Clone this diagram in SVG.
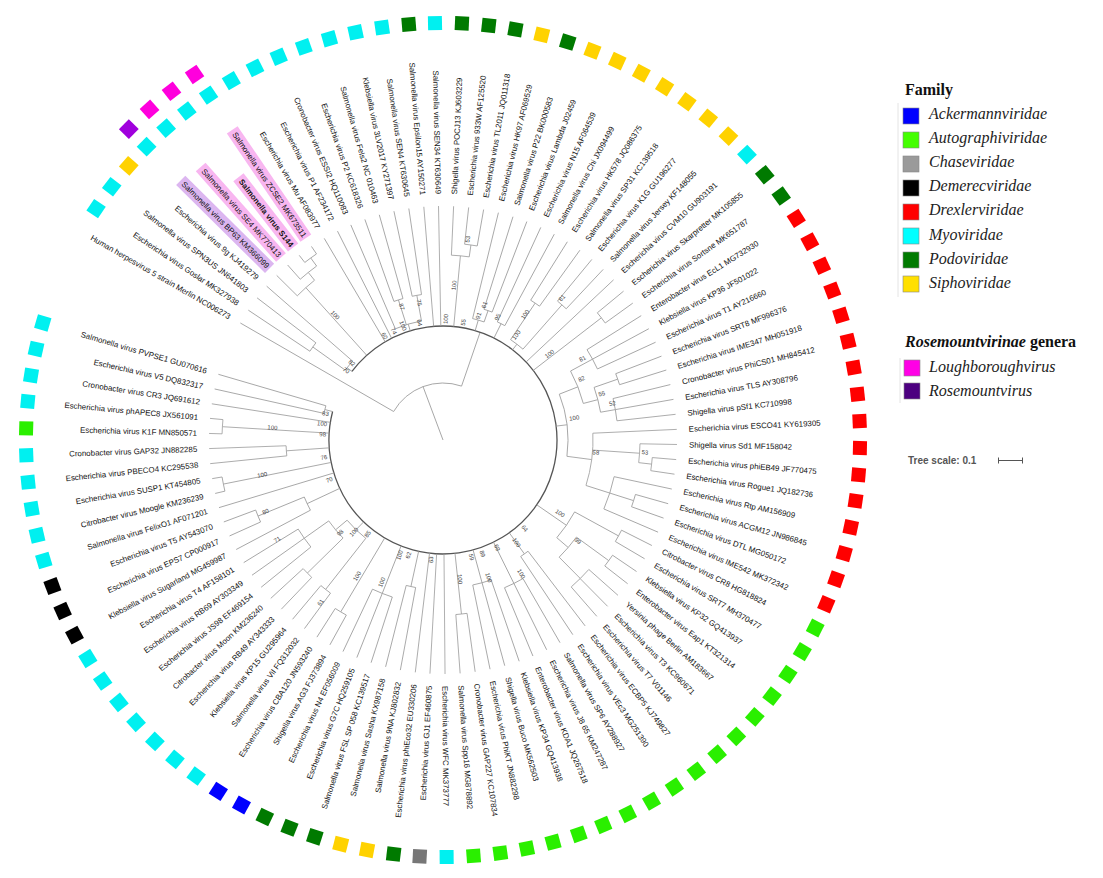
<svg xmlns="http://www.w3.org/2000/svg" width="1103" height="878" viewBox="0 0 1103 878">
<style>
.t{font-family:"Liberation Sans",Arial,sans-serif;font-size:7.9px;fill:#111}
.l{text-anchor:end}
.sb{font-weight:bold}
.b line,.b circle{stroke:#9c9c9c;stroke-width:0.8;fill:none}
.b circle.m{stroke:#555;stroke-width:1.3}
.bs{font-family:"Liberation Sans",Arial,sans-serif;font-size:6px;fill:#444}
.bsl{font-family:"Liberation Sans",Arial,sans-serif;font-size:6px;fill:#444;text-anchor:end}
.cy{fill:#00f0f0}.gd{fill:#007a00}.ye{fill:#ffd200}.re{fill:#ff0000}.li{fill:#2aef00}.gy{fill:#777}.bl{fill:#0000ff}.bk{fill:#000}
.pu{fill:#a000dd}.mg{fill:#ff00dd}
.hp{fill:#f8b6f0}.hv{fill:#dcb6f0}
.lg{font-family:"Liberation Serif","Times New Roman",serif;font-size:16px;font-style:italic;fill:#222}
.lh{font-family:"Liberation Serif","Times New Roman",serif;font-size:16px;font-weight:bold;fill:#111}
.ls{stroke:#888;stroke-width:0.6}
</style>
<defs>
<rect id="sq" x="410" y="-7" width="14" height="14"/>
<rect id="sq2" x="435" y="-7" width="14" height="14"/>
</defs>
<rect width="1103" height="878" fill="#fff"/>
<g transform="translate(443,440)">
<g id="connectors" class="b">
<line x2="57" transform="rotate(249.5)"/>
<circle r="57" pathLength="360" stroke-dasharray="79 400" transform="rotate(210)"/>
<line x1="57" x2="234" transform="rotate(210)"/>
<line x1="57" x2="114" transform="rotate(289)"/>
<circle class="m" r="114" pathLength="360" stroke-dasharray="337.45 400" transform="rotate(217)"/>
<line x1="114" x2="120" transform="rotate(217)"/>
<circle r="120" pathLength="360" stroke-dasharray="5.55 400" transform="rotate(215.55)"/>
<line x1="120" x2="160" transform="rotate(215.55)"/>
<circle r="160" pathLength="360" stroke-dasharray="3.7 400" transform="rotate(213.7)"/>
<line x1="160" x2="234" transform="rotate(213.7)"/>
<line x1="160" x2="234" transform="rotate(217.4)"/>
<line x1="120" x2="234" transform="rotate(221.1)"/>
<line x1="114" x2="205" transform="rotate(228)"/>
<circle r="205" pathLength="360" stroke-dasharray="6.5 400" transform="rotate(224.7)"/>
<line x1="205" x2="234" transform="rotate(224.7)"/>
<line x1="205" x2="215" transform="rotate(231.2)"/>
<circle r="215" pathLength="360" stroke-dasharray="5.6 400" transform="rotate(228.4)"/>
<line x1="215" x2="234" transform="rotate(228.4)"/>
<line x1="215" x2="225" transform="rotate(234)"/>
<circle r="225" pathLength="360" stroke-dasharray="3.7 400" transform="rotate(232.1)"/>
<line x1="225" x2="234" transform="rotate(232.1)"/>
<line x1="225" x2="234" transform="rotate(235.8)"/>
<line x1="114" x2="234" transform="rotate(239.5)"/>
<line x1="114" x2="234" transform="rotate(243.2)"/>
<line x1="114" x2="121" transform="rotate(253.3)"/>
<circle r="121" pathLength="360" stroke-dasharray="12.95 400" transform="rotate(246.8)"/>
<line x1="121" x2="234" transform="rotate(246.8)"/>
<line x1="121" x2="147" transform="rotate(252.35)"/>
<circle r="147" pathLength="360" stroke-dasharray="3.7 400" transform="rotate(250.5)"/>
<line x1="147" x2="234" transform="rotate(250.5)"/>
<line x1="147" x2="234" transform="rotate(254.2)"/>
<line x1="121" x2="147" transform="rotate(259.75)"/>
<circle r="147" pathLength="360" stroke-dasharray="3.7 400" transform="rotate(257.9)"/>
<line x1="147" x2="234" transform="rotate(257.9)"/>
<line x1="147" x2="234" transform="rotate(261.6)"/>
<line x1="114" x2="234" transform="rotate(265.3)"/>
<line x1="114" x2="234" transform="rotate(268.9)"/>
<line x1="114" x2="185" transform="rotate(275.4)"/>
<circle r="185" pathLength="360" stroke-dasharray="5.55 400" transform="rotate(272.6)"/>
<line x1="185" x2="234" transform="rotate(272.6)"/>
<line x1="185" x2="197" transform="rotate(278.15)"/>
<circle r="197" pathLength="360" stroke-dasharray="3.7 400" transform="rotate(276.3)"/>
<line x1="197" x2="234" transform="rotate(276.3)"/>
<line x1="197" x2="234" transform="rotate(280)"/>
<line x1="114" x2="125" transform="rotate(286.4)"/>
<circle r="125" pathLength="360" stroke-dasharray="5.5 400" transform="rotate(283.7)"/>
<line x1="125" x2="234" transform="rotate(283.7)"/>
<line x1="125" x2="137" transform="rotate(289.2)"/>
<circle r="137" pathLength="360" stroke-dasharray="3.6 400" transform="rotate(287.4)"/>
<line x1="137" x2="234" transform="rotate(287.4)"/>
<line x1="137" x2="234" transform="rotate(291)"/>
<line x1="114" x2="130" transform="rotate(296.55)"/>
<circle r="130" pathLength="360" stroke-dasharray="3.7 400" transform="rotate(294.7)"/>
<line x1="130" x2="234" transform="rotate(294.7)"/>
<line x1="130" x2="234" transform="rotate(298.4)"/>
<line x1="114" x2="121" transform="rotate(307.65)"/>
<circle r="121" pathLength="360" stroke-dasharray="7.4 400" transform="rotate(303.95)"/>
<line x1="121" x2="165" transform="rotate(303.95)"/>
<circle r="165" pathLength="360" stroke-dasharray="3.7 400" transform="rotate(302.1)"/>
<line x1="165" x2="234" transform="rotate(302.1)"/>
<line x1="165" x2="234" transform="rotate(305.8)"/>
<line x1="121" x2="180" transform="rotate(311.35)"/>
<circle r="180" pathLength="360" stroke-dasharray="3.7 400" transform="rotate(309.5)"/>
<line x1="180" x2="234" transform="rotate(309.5)"/>
<line x1="180" x2="234" transform="rotate(313.2)"/>
<line x1="114" x2="234" transform="rotate(316.8)"/>
<line x1="114" x2="200" transform="rotate(322.35)"/>
<circle r="200" pathLength="360" stroke-dasharray="3.7 400" transform="rotate(320.5)"/>
<line x1="200" x2="234" transform="rotate(320.5)"/>
<line x1="200" x2="234" transform="rotate(324.2)"/>
<line x1="114" x2="125" transform="rotate(353)"/>
<circle r="125" pathLength="360" stroke-dasharray="29 400" transform="rotate(338.5)"/>
<line x1="125" x2="145" transform="rotate(338.5)"/>
<circle r="145" pathLength="360" stroke-dasharray="13.8 400" transform="rotate(331.6)"/>
<line x1="145" x2="170" transform="rotate(331.6)"/>
<circle r="170" pathLength="360" stroke-dasharray="7.4 400" transform="rotate(327.9)"/>
<line x1="170" x2="234" transform="rotate(327.9)"/>
<line x1="170" x2="234" transform="rotate(331.6)"/>
<line x1="170" x2="234" transform="rotate(335.3)"/>
<line x1="145" x2="160" transform="rotate(345.4)"/>
<circle r="160" pathLength="360" stroke-dasharray="9.2 400" transform="rotate(340.8)"/>
<line x1="160" x2="185" transform="rotate(340.8)"/>
<circle r="185" pathLength="360" stroke-dasharray="3.6 400" transform="rotate(339)"/>
<line x1="185" x2="234" transform="rotate(339)"/>
<line x1="185" x2="234" transform="rotate(342.6)"/>
<line x1="160" x2="175" transform="rotate(350)"/>
<circle r="175" pathLength="360" stroke-dasharray="7.4 400" transform="rotate(346.3)"/>
<line x1="175" x2="234" transform="rotate(346.3)"/>
<line x1="175" x2="234" transform="rotate(350)"/>
<line x1="175" x2="234" transform="rotate(353.7)"/>
<line x1="125" x2="150" transform="rotate(367.5)"/>
<circle r="150" pathLength="360" stroke-dasharray="20.2 400" transform="rotate(357.4)"/>
<line x1="150" x2="234" transform="rotate(357.4)"/>
<line x1="150" x2="197" transform="rotate(363.85)"/>
<circle r="197" pathLength="360" stroke-dasharray="5.5 400" transform="rotate(361.1)"/>
<line x1="197" x2="234" transform="rotate(361.1)"/>
<line x1="197" x2="210" transform="rotate(366.6)"/>
<circle r="210" pathLength="360" stroke-dasharray="3.6 400" transform="rotate(364.8)"/>
<line x1="210" x2="234" transform="rotate(364.8)"/>
<line x1="210" x2="234" transform="rotate(368.4)"/>
<line x1="150" x2="175" transform="rotate(377.65)"/>
<circle r="175" pathLength="360" stroke-dasharray="11.1 400" transform="rotate(372.1)"/>
<line x1="175" x2="234" transform="rotate(372.1)"/>
<line x1="175" x2="200" transform="rotate(377.65)"/>
<circle r="200" pathLength="360" stroke-dasharray="3.7 400" transform="rotate(375.8)"/>
<line x1="200" x2="234" transform="rotate(375.8)"/>
<line x1="200" x2="234" transform="rotate(379.5)"/>
<line x1="175" x2="234" transform="rotate(383.2)"/>
<line x1="114" x2="150" transform="rotate(394.65)"/>
<circle r="150" pathLength="360" stroke-dasharray="12 400" transform="rotate(388.65)"/>
<line x1="150" x2="200" transform="rotate(388.65)"/>
<circle r="200" pathLength="360" stroke-dasharray="3.7 400" transform="rotate(386.8)"/>
<line x1="200" x2="234" transform="rotate(386.8)"/>
<line x1="200" x2="234" transform="rotate(390.5)"/>
<line x1="150" x2="165" transform="rotate(400.65)"/>
<circle r="165" pathLength="360" stroke-dasharray="9.2 400" transform="rotate(396.05)"/>
<line x1="165" x2="205" transform="rotate(396.05)"/>
<circle r="205" pathLength="360" stroke-dasharray="3.7 400" transform="rotate(394.2)"/>
<line x1="205" x2="234" transform="rotate(394.2)"/>
<line x1="205" x2="234" transform="rotate(397.9)"/>
<line x1="165" x2="195" transform="rotate(405.25)"/>
<circle r="195" pathLength="360" stroke-dasharray="7.3 400" transform="rotate(401.6)"/>
<line x1="195" x2="234" transform="rotate(401.6)"/>
<line x1="195" x2="234" transform="rotate(405.3)"/>
<line x1="195" x2="234" transform="rotate(408.9)"/>
<line x1="114" x2="140" transform="rotate(414.45)"/>
<circle r="140" pathLength="360" stroke-dasharray="3.7 400" transform="rotate(412.6)"/>
<line x1="140" x2="234" transform="rotate(412.6)"/>
<line x1="140" x2="234" transform="rotate(416.3)"/>
<line x1="114" x2="160" transform="rotate(423.7)"/>
<circle r="160" pathLength="360" stroke-dasharray="7.4 400" transform="rotate(420)"/>
<line x1="160" x2="234" transform="rotate(420)"/>
<line x1="160" x2="234" transform="rotate(423.7)"/>
<line x1="160" x2="234" transform="rotate(427.4)"/>
<line x1="114" x2="148" transform="rotate(434.7)"/>
<circle r="148" pathLength="360" stroke-dasharray="7.4 400" transform="rotate(431)"/>
<line x1="148" x2="234" transform="rotate(431)"/>
<line x1="148" x2="234" transform="rotate(434.7)"/>
<line x1="148" x2="234" transform="rotate(438.4)"/>
<line x1="114" x2="175" transform="rotate(443.95)"/>
<circle r="175" pathLength="360" stroke-dasharray="3.7 400" transform="rotate(442.1)"/>
<line x1="175" x2="234" transform="rotate(442.1)"/>
<line x1="175" x2="234" transform="rotate(445.8)"/>
<line x1="114" x2="234" transform="rotate(449.5)"/>
<line x1="114" x2="234" transform="rotate(453.2)"/>
<line x1="114" x2="234" transform="rotate(456.8)"/>
<line x1="114" x2="150" transform="rotate(462.35)"/>
<circle r="150" pathLength="360" stroke-dasharray="3.7 400" transform="rotate(460.5)"/>
<line x1="150" x2="234" transform="rotate(460.5)"/>
<line x1="150" x2="234" transform="rotate(464.2)"/>
<line x1="114" x2="165" transform="rotate(471.6)"/>
<circle r="165" pathLength="360" stroke-dasharray="7.4 400" transform="rotate(467.9)"/>
<line x1="165" x2="234" transform="rotate(467.9)"/>
<line x1="165" x2="234" transform="rotate(471.6)"/>
<line x1="165" x2="234" transform="rotate(475.3)"/>
<line x1="114" x2="200" transform="rotate(480.75)"/>
<circle r="200" pathLength="360" stroke-dasharray="3.7 400" transform="rotate(478.9)"/>
<line x1="200" x2="234" transform="rotate(478.9)"/>
<line x1="200" x2="234" transform="rotate(482.6)"/>
<line x1="114" x2="125" transform="rotate(494.1)"/>
<circle r="125" pathLength="360" stroke-dasharray="11.95 400" transform="rotate(488.15)"/>
<line x1="125" x2="190" transform="rotate(488.15)"/>
<circle r="190" pathLength="360" stroke-dasharray="3.7 400" transform="rotate(486.3)"/>
<line x1="190" x2="234" transform="rotate(486.3)"/>
<line x1="190" x2="234" transform="rotate(490)"/>
<line x1="125" x2="140" transform="rotate(500.1)"/>
<circle r="140" pathLength="360" stroke-dasharray="9.15 400" transform="rotate(495.55)"/>
<line x1="140" x2="190" transform="rotate(495.55)"/>
<circle r="190" pathLength="360" stroke-dasharray="3.7 400" transform="rotate(493.7)"/>
<line x1="190" x2="234" transform="rotate(493.7)"/>
<line x1="190" x2="234" transform="rotate(497.4)"/>
<line x1="140" x2="170" transform="rotate(504.7)"/>
<circle r="170" pathLength="360" stroke-dasharray="7.4 400" transform="rotate(501)"/>
<line x1="170" x2="234" transform="rotate(501)"/>
<line x1="170" x2="234" transform="rotate(504.7)"/>
<line x1="170" x2="234" transform="rotate(508.4)"/>
<line x1="114" x2="150" transform="rotate(514.9)"/>
<circle r="150" pathLength="360" stroke-dasharray="5.55 400" transform="rotate(512.1)"/>
<line x1="150" x2="234" transform="rotate(512.1)"/>
<line x1="150" x2="200" transform="rotate(517.65)"/>
<circle r="200" pathLength="360" stroke-dasharray="3.7 400" transform="rotate(515.8)"/>
<line x1="200" x2="234" transform="rotate(515.8)"/>
<line x1="200" x2="234" transform="rotate(519.5)"/>
<line x1="114" x2="234" transform="rotate(523.2)"/>
<line x1="114" x2="224" transform="rotate(528.65)"/>
<circle r="224" pathLength="360" stroke-dasharray="3.7 400" transform="rotate(526.8)"/>
<line x1="224" x2="234" transform="rotate(526.8)"/>
<line x1="224" x2="234" transform="rotate(530.5)"/>
<line x1="114" x2="157" transform="rotate(536.05)"/>
<circle r="157" pathLength="360" stroke-dasharray="3.7 400" transform="rotate(534.2)"/>
<line x1="157" x2="234" transform="rotate(534.2)"/>
<line x1="157" x2="234" transform="rotate(537.9)"/>
<line x1="114" x2="221" transform="rotate(543.45)"/>
<circle r="221" pathLength="360" stroke-dasharray="3.7 400" transform="rotate(541.6)"/>
<line x1="221" x2="234" transform="rotate(541.6)"/>
<line x1="221" x2="234" transform="rotate(545.3)"/>
<line x1="114" x2="234" transform="rotate(548.9)"/>
<line x1="114" x2="122" transform="rotate(554.45)"/>
<circle r="122" pathLength="360" stroke-dasharray="3.7 400" transform="rotate(552.6)"/>
<line x1="122" x2="234" transform="rotate(552.6)"/>
<line x1="122" x2="234" transform="rotate(556.3)"/>
</g>
<g id="support">
<text class="bsl" transform="rotate(34)" x="-116" y="-1.5">70</text>
<text class="bsl" transform="rotate(38.5)" x="-116" y="-1.5">82</text>
<text class="bsl" transform="rotate(48)" x="-160" y="-1.5">100</text>
<text class="bsl" transform="rotate(59)" x="-116" y="-1.5">60</text>
<text class="bsl" transform="rotate(64)" x="-116" y="-1.5">74</text>
<text class="bsl" transform="rotate(69)" x="-116" y="-1.5">100</text>
<text class="bsl" transform="rotate(77)" x="-116" y="-1.5">64</text>
<text class="bsl" transform="rotate(71.3)" x="-136" y="-1.5">87</text>
<text class="bsl" transform="rotate(78.7)" x="-136" y="-1.5">75</text>
<text class="bs" transform="rotate(273)" x="116" y="-1.5">100</text>
<text class="bs" transform="rotate(275.4)" x="150" y="-1.5">100</text>
<text class="bs" transform="rotate(278)" x="199" y="-1.5">53</text>
<text class="bs" transform="rotate(281.5)" x="116" y="-1.5">55</text>
<text class="bs" transform="rotate(287.5)" x="126" y="-1.5">91</text>
<text class="bs" transform="rotate(288.5)" x="138" y="-1.5">61</text>
<text class="bs" transform="rotate(295.5)" x="131" y="-1.5">95</text>
<text class="bs" transform="rotate(306.5)" x="123" y="-1.5">100</text>
<text class="bs" transform="rotate(304.5)" x="145" y="-1.5">100</text>
<text class="bs" transform="rotate(311)" x="182" y="-1.5">81</text>
<text class="bs" transform="rotate(322.5)" x="132" y="-1.5">100</text>
<text class="bs" transform="rotate(331)" x="158" y="-1.5">81</text>
<text class="bs" transform="rotate(337.5)" x="148" y="-1.5">82</text>
<text class="bs" transform="rotate(345)" x="162" y="-1.5">55</text>
<text class="bs" transform="rotate(349)" x="170" y="-1.5">52</text>
<text class="bs" transform="rotate(352)" x="128" y="-1.5">100</text>
<text class="bs" transform="rotate(6)" x="150" y="-1.5">58</text>
<text class="bs" transform="rotate(4.5)" x="199" y="-1.5">53</text>
<text class="bs" transform="rotate(33.5)" x="133" y="-1.5">100</text>
<text class="bs" transform="rotate(38)" x="165" y="-1.5">99</text>
<text class="bs" transform="rotate(49)" x="117" y="-1.5">64</text>
<text class="bs" transform="rotate(56)" x="121" y="-1.5">100</text>
<text class="bs" transform="rotate(61)" x="150" y="-1.5">100</text>
<text class="bs" transform="rotate(65)" x="117" y="-1.5">69</text>
<text class="bs" transform="rotate(72.5)" x="117" y="-1.5">89</text>
<text class="bs" transform="rotate(73)" x="140" y="-1.5">100</text>
<text class="bs" transform="rotate(78)" x="117" y="-1.5">59</text>
<text class="bs" transform="rotate(84.5)" x="135" y="-1.5">100</text>
<text class="bsl" transform="rotate(-86)" x="-117" y="-1.5">63</text>
<text class="bsl" transform="rotate(-75)" x="-117" y="-1.5">62</text>
<text class="bsl" transform="rotate(-71)" x="-118" y="-1.5">100</text>
<text class="bsl" transform="rotate(-68)" x="-150" y="-1.5">100</text>
<text class="bsl" transform="rotate(-59)" x="-156" y="-1.5">100</text>
<text class="bsl" transform="rotate(-54)" x="-200" y="-1.5">61</text>
<text class="bsl" transform="rotate(-53)" x="-117" y="-1.5">85</text>
<text class="bsl" transform="rotate(-47.5)" x="-123" y="-1.5">100</text>
<text class="bsl" transform="rotate(-43.5)" x="-135" y="-1.5">98</text>
<text class="bsl" transform="rotate(-32)" x="-190" y="-1.5">71</text>
<text class="bsl" transform="rotate(-23)" x="-188" y="-1.5">80</text>
<text class="bsl" transform="rotate(-21)" x="-117" y="-1.5">70</text>
<text class="bsl" transform="rotate(-12)" x="-179" y="-1.5">100</text>
<text class="bsl" transform="rotate(-10)" x="-117" y="-1.5">76</text>
<text class="bsl" transform="rotate(1)" x="-117" y="-1.5">98</text>
<text class="bsl" transform="rotate(3)" x="-166" y="-1.5">100</text>
<text class="bsl" transform="rotate(6)" x="-117" y="-1.5">100</text>
<text class="bsl" transform="rotate(11)" x="-117" y="-1.5">83</text>
</g>
<g id="leaves">
<g id="leaf-01"><text class="t l" transform="rotate(30)" x="-246" dy="2.8">Human herpesvirus 5 strain Merlin NC006273</text></g>
<g id="leaf-02"><text class="t l" transform="rotate(33.7)" x="-246" dy="2.8">Escherichia virus Goslar MK327938</text><use href="#sq" class="cy" transform="rotate(213.7)"/></g>
<g id="leaf-03"><text class="t l" transform="rotate(37.4)" x="-246" dy="2.8">Salmonella virus SPN3US JN641803</text><use href="#sq" class="cy" transform="rotate(217.4)"/></g>
<g id="leaf-04"><text class="t l" transform="rotate(41.1)" x="-246" dy="2.8">Escherichia virus 9g KJ419279</text><use href="#sq" class="ye" transform="rotate(221.1)"/></g>
<g id="leaf-05"><rect class="hv" transform="rotate(44.7)" x="-369" y="-6.5" width="125" height="13"/><text class="t l" transform="rotate(44.7)" x="-246" dy="2.8">Salmonella virus BP63 KM366099</text><use href="#sq" class="cy" transform="rotate(224.7)"/><use href="#sq2" class="pu" transform="rotate(224.7)"/></g>
<g id="leaf-06"><rect class="hp" transform="rotate(48.4)" x="-365" y="-6.5" width="121" height="13"/><text class="t l" transform="rotate(48.4)" x="-246" dy="2.8">Salmonella virus SE4 MK770413</text><use href="#sq" class="cy" transform="rotate(228.4)"/><use href="#sq2" class="mg" transform="rotate(228.4)"/></g>
<g id="leaf-07"><rect class="hp" transform="rotate(52.1)" x="-333" y="-6.5" width="89" height="13"/><text class="t l sb" transform="rotate(52.1)" x="-246" dy="2.8">Salmonella virus S144</text><use href="#sq" class="cy" transform="rotate(232.1)"/><use href="#sq2" class="mg" transform="rotate(232.1)"/></g>
<g id="leaf-08"><rect class="hp" transform="rotate(55.8)" x="-375" y="-6.5" width="131" height="13"/><text class="t l" transform="rotate(55.8)" x="-246" dy="2.8">Salmonella virus ZCSE2 MK673511</text><use href="#sq" class="cy" transform="rotate(235.8)"/><use href="#sq2" class="mg" transform="rotate(235.8)"/></g>
<g id="leaf-09"><text class="t l" transform="rotate(59.5)" x="-246" dy="2.8">Escherichia virus Mu AF083977</text><use href="#sq" class="cy" transform="rotate(239.5)"/></g>
<g id="leaf-10"><text class="t l" transform="rotate(63.2)" x="-246" dy="2.8">Escherichia virus P1 AF234172</text><use href="#sq" class="cy" transform="rotate(243.2)"/></g>
<g id="leaf-11"><text class="t l" transform="rotate(66.8)" x="-246" dy="2.8">Cronobacter virus ESSI2 HQ110083</text><use href="#sq" class="cy" transform="rotate(246.8)"/></g>
<g id="leaf-12"><text class="t l" transform="rotate(70.5)" x="-246" dy="2.8">Escherichia virus P2 KC618326</text><use href="#sq" class="cy" transform="rotate(250.5)"/></g>
<g id="leaf-13"><text class="t l" transform="rotate(74.2)" x="-246" dy="2.8">Salmonella virus Fels2 NC 010463</text><use href="#sq" class="cy" transform="rotate(254.2)"/></g>
<g id="leaf-14"><text class="t l" transform="rotate(77.9)" x="-246" dy="2.8">Klebsiella virus 3LV2017 KY271397</text><use href="#sq" class="cy" transform="rotate(257.9)"/></g>
<g id="leaf-15"><text class="t l" transform="rotate(81.6)" x="-246" dy="2.8">Salmonella virus SEN4 KT630645</text><use href="#sq" class="cy" transform="rotate(261.6)"/></g>
<g id="leaf-16"><text class="t l" transform="rotate(85.3)" x="-246" dy="2.8">Salmonella virus Epsilon15 AY150271</text><use href="#sq" class="gd" transform="rotate(265.3)"/></g>
<g id="leaf-17"><text class="t l" transform="rotate(88.9)" x="-246" dy="2.8">Salmonella virus SEN34 KT630649</text><use href="#sq" class="cy" transform="rotate(268.9)"/></g>
<g id="leaf-18"><text class="t" transform="rotate(272.6)" x="246" dy="2.8">Shigella virus POCJ13 KJ603229</text><use href="#sq" class="gd" transform="rotate(272.6)"/></g>
<g id="leaf-19"><text class="t" transform="rotate(276.3)" x="246" dy="2.8">Escherichia virus 933W AF125520</text><use href="#sq" class="gd" transform="rotate(276.3)"/></g>
<g id="leaf-20"><text class="t" transform="rotate(280)" x="246" dy="2.8">Escherichia virus TL2011 JQ011318</text><use href="#sq" class="gd" transform="rotate(280)"/></g>
<g id="leaf-21"><text class="t" transform="rotate(283.7)" x="246" dy="2.8">Escherichia virus HK97 AF069529</text><use href="#sq" class="ye" transform="rotate(283.7)"/></g>
<g id="leaf-22"><text class="t" transform="rotate(287.4)" x="246" dy="2.8">Salmonella virus P22 BK000583</text><use href="#sq" class="gd" transform="rotate(287.4)"/></g>
<g id="leaf-23"><text class="t" transform="rotate(291)" x="246" dy="2.8">Escherichia virus Lambda J02459</text><use href="#sq" class="ye" transform="rotate(291)"/></g>
<g id="leaf-24"><text class="t" transform="rotate(294.7)" x="246" dy="2.8">Escherichia virus N15 AF064539</text><use href="#sq" class="ye" transform="rotate(294.7)"/></g>
<g id="leaf-25"><text class="t" transform="rotate(298.4)" x="246" dy="2.8">Salmonella virus Chi JX094499</text><use href="#sq" class="ye" transform="rotate(298.4)"/></g>
<g id="leaf-26"><text class="t" transform="rotate(302.1)" x="246" dy="2.8">Escherichia virus HK578 JQ086375</text><use href="#sq" class="ye" transform="rotate(302.1)"/></g>
<g id="leaf-27"><text class="t" transform="rotate(305.8)" x="246" dy="2.8">Salmonella virus SP31 KC139518</text><use href="#sq" class="ye" transform="rotate(305.8)"/></g>
<g id="leaf-28"><text class="t" transform="rotate(309.5)" x="246" dy="2.8">Escherichia virus K1G GU196277</text><use href="#sq" class="ye" transform="rotate(309.5)"/></g>
<g id="leaf-29"><text class="t" transform="rotate(313.2)" x="246" dy="2.8">Salmonella virus Jersey KF148055</text><use href="#sq" class="ye" transform="rotate(313.2)"/></g>
<g id="leaf-30"><text class="t" transform="rotate(316.8)" x="246" dy="2.8">Escherichia virus CVM10 GU903191</text><use href="#sq" class="cy" transform="rotate(316.8)"/></g>
<g id="leaf-31"><text class="t" transform="rotate(320.5)" x="246" dy="2.8">Escherichia virus Skarpretter MK105855</text><use href="#sq" class="gd" transform="rotate(320.5)"/></g>
<g id="leaf-32"><text class="t" transform="rotate(324.2)" x="246" dy="2.8">Escherichia virus Sortsne MK651787</text><use href="#sq" class="gd" transform="rotate(324.2)"/></g>
<g id="leaf-33"><text class="t" transform="rotate(327.9)" x="246" dy="2.8">Enterobacter virus EcL1 MG732930</text><use href="#sq" class="re" transform="rotate(327.9)"/></g>
<g id="leaf-34"><text class="t" transform="rotate(331.6)" x="246" dy="2.8">Klebsiella virus KP36 JF501022</text><use href="#sq" class="re" transform="rotate(331.6)"/></g>
<g id="leaf-35"><text class="t" transform="rotate(335.3)" x="246" dy="2.8">Escherichia virus T1 AY216660</text><use href="#sq" class="re" transform="rotate(335.3)"/></g>
<g id="leaf-36"><text class="t" transform="rotate(339)" x="246" dy="2.8">Escherichia virus SRT8 MF996376</text><use href="#sq" class="re" transform="rotate(339)"/></g>
<g id="leaf-37"><text class="t" transform="rotate(342.6)" x="246" dy="2.8">Escherichia virus IME347 MH051918</text><use href="#sq" class="re" transform="rotate(342.6)"/></g>
<g id="leaf-38"><text class="t" transform="rotate(346.3)" x="246" dy="2.8">Cronobacter virus PhiCS01 MH845412</text><use href="#sq" class="re" transform="rotate(346.3)"/></g>
<g id="leaf-39"><text class="t" transform="rotate(350)" x="246" dy="2.8">Escherichia virus TLS AY308796</text><use href="#sq" class="re" transform="rotate(350)"/></g>
<g id="leaf-40"><text class="t" transform="rotate(353.7)" x="246" dy="2.8">Shigella virus pSf1 KC710998</text><use href="#sq" class="re" transform="rotate(353.7)"/></g>
<g id="leaf-41"><text class="t" transform="rotate(357.4)" x="246" dy="2.8">Escherichia virus ESCO41 KY619305</text><use href="#sq" class="re" transform="rotate(357.4)"/></g>
<g id="leaf-42"><text class="t" transform="rotate(1.1)" x="246" dy="2.8">Shigella virus Sd1 MF158042</text><use href="#sq" class="re" transform="rotate(1.1)"/></g>
<g id="leaf-43"><text class="t" transform="rotate(4.8)" x="246" dy="2.8">Escherichia virus phiEB49 JF770475</text><use href="#sq" class="re" transform="rotate(4.8)"/></g>
<g id="leaf-44"><text class="t" transform="rotate(8.4)" x="246" dy="2.8">Escherichia virus Rogue1 JQ182736</text><use href="#sq" class="re" transform="rotate(8.4)"/></g>
<g id="leaf-45"><text class="t" transform="rotate(12.1)" x="246" dy="2.8">Escherichia virus Rtp AM156909</text><use href="#sq" class="re" transform="rotate(12.1)"/></g>
<g id="leaf-46"><text class="t" transform="rotate(15.8)" x="246" dy="2.8">Escherichia virus ACGM12 JN986845</text><use href="#sq" class="re" transform="rotate(15.8)"/></g>
<g id="leaf-47"><text class="t" transform="rotate(19.5)" x="246" dy="2.8">Escherichia virus DTL MG050172</text><use href="#sq" class="re" transform="rotate(19.5)"/></g>
<g id="leaf-48"><text class="t" transform="rotate(23.2)" x="246" dy="2.8">Escherichia virus IME542 MK372342</text><use href="#sq" class="re" transform="rotate(23.2)"/></g>
<g id="leaf-49"><text class="t" transform="rotate(26.8)" x="246" dy="2.8">Citrobacter virus CR8 HG818824</text><use href="#sq" class="li" transform="rotate(26.8)"/></g>
<g id="leaf-50"><text class="t" transform="rotate(30.5)" x="246" dy="2.8">Escherichia virus SRT7 MH370477</text><use href="#sq" class="li" transform="rotate(30.5)"/></g>
<g id="leaf-51"><text class="t" transform="rotate(34.2)" x="246" dy="2.8">Klebsiella virus KP32 GQ413937</text><use href="#sq" class="li" transform="rotate(34.2)"/></g>
<g id="leaf-52"><text class="t" transform="rotate(37.9)" x="246" dy="2.8">Enterobacter virus Eap1 KT321314</text><use href="#sq" class="li" transform="rotate(37.9)"/></g>
<g id="leaf-53"><text class="t" transform="rotate(41.6)" x="246" dy="2.8">Yersinia phage Berlin AM183667</text><use href="#sq" class="li" transform="rotate(41.6)"/></g>
<g id="leaf-54"><text class="t" transform="rotate(45.3)" x="246" dy="2.8">Escherichia virus T3 KC960671</text><use href="#sq" class="li" transform="rotate(45.3)"/></g>
<g id="leaf-55"><text class="t" transform="rotate(48.9)" x="246" dy="2.8">Escherichia virus T7 V01146</text><use href="#sq" class="li" transform="rotate(48.9)"/></g>
<g id="leaf-56"><text class="t" transform="rotate(52.6)" x="246" dy="2.8">Escherichia virus ECBP5 KJ749827</text><use href="#sq" class="li" transform="rotate(52.6)"/></g>
<g id="leaf-57"><text class="t" transform="rotate(56.3)" x="246" dy="2.8">Escherichia virus VEc3 MG251390</text><use href="#sq" class="li" transform="rotate(56.3)"/></g>
<g id="leaf-58"><text class="t" transform="rotate(60)" x="246" dy="2.8">Salmonella virus SP6 AY288927</text><use href="#sq" class="li" transform="rotate(60)"/></g>
<g id="leaf-59"><text class="t" transform="rotate(63.7)" x="246" dy="2.8">Escherichia virus J8 65 KM247287</text><use href="#sq" class="li" transform="rotate(63.7)"/></g>
<g id="leaf-60"><text class="t" transform="rotate(67.4)" x="246" dy="2.8">Enterobacter virus KDA1 JQ267518</text><use href="#sq" class="li" transform="rotate(67.4)"/></g>
<g id="leaf-61"><text class="t" transform="rotate(71)" x="246" dy="2.8">Klebsiella virus KP34 GQ413938</text><use href="#sq" class="li" transform="rotate(71)"/></g>
<g id="leaf-62"><text class="t" transform="rotate(74.7)" x="246" dy="2.8">Shigella virus Buco MK562503</text><use href="#sq" class="li" transform="rotate(74.7)"/></g>
<g id="leaf-63"><text class="t" transform="rotate(78.4)" x="246" dy="2.8">Escherichia virus PhiKT JN882298</text><use href="#sq" class="li" transform="rotate(78.4)"/></g>
<g id="leaf-64"><text class="t" transform="rotate(82.1)" x="246" dy="2.8">Cronobacter virus GAP227 KC107834</text><use href="#sq" class="li" transform="rotate(82.1)"/></g>
<g id="leaf-65"><text class="t" transform="rotate(85.8)" x="246" dy="2.8">Salmonella virus Spp16 MG878892</text><use href="#sq" class="li" transform="rotate(85.8)"/></g>
<g id="leaf-66"><text class="t" transform="rotate(89.5)" x="246" dy="2.8">Escherichia virus WFC MK373777</text><use href="#sq" class="cy" transform="rotate(89.5)"/></g>
<g id="leaf-67"><text class="t l" transform="rotate(-86.8)" x="-246" dy="2.8">Escherichia virus GJ1 EF460875</text><use href="#sq" class="gy" transform="rotate(93.2)"/></g>
<g id="leaf-68"><text class="t l" transform="rotate(-83.2)" x="-246" dy="2.8">Escherichia virus phiEco32 EU330206</text><use href="#sq" class="gd" transform="rotate(96.8)"/></g>
<g id="leaf-69"><text class="t l" transform="rotate(-79.5)" x="-246" dy="2.8">Salmonella virus 9NA KJ802832</text><use href="#sq" class="ye" transform="rotate(100.5)"/></g>
<g id="leaf-70"><text class="t l" transform="rotate(-75.8)" x="-246" dy="2.8">Salmonella virus Sasha KX987158</text><use href="#sq" class="ye" transform="rotate(104.2)"/></g>
<g id="leaf-71"><text class="t l" transform="rotate(-72.1)" x="-246" dy="2.8">Salmonella virus FSL SP 058 KC139517</text><use href="#sq" class="gd" transform="rotate(107.9)"/></g>
<g id="leaf-72"><text class="t l" transform="rotate(-68.4)" x="-246" dy="2.8">Escherichia virus G7C HQ259105</text><use href="#sq" class="gd" transform="rotate(111.6)"/></g>
<g id="leaf-73"><text class="t l" transform="rotate(-64.7)" x="-246" dy="2.8">Escherichia virus N4 EF056009</text><use href="#sq" class="gd" transform="rotate(115.3)"/></g>
<g id="leaf-74"><text class="t l" transform="rotate(-61.1)" x="-246" dy="2.8">Shigella virus AG3 FJ373894</text><use href="#sq" class="bl" transform="rotate(118.9)"/></g>
<g id="leaf-75"><text class="t l" transform="rotate(-57.4)" x="-246" dy="2.8">Escherichia virus CBA120 JN593240</text><use href="#sq" class="bl" transform="rotate(122.6)"/></g>
<g id="leaf-76"><text class="t l" transform="rotate(-53.7)" x="-246" dy="2.8">Salmonella virus ViI FQ312032</text><use href="#sq" class="cy" transform="rotate(126.3)"/></g>
<g id="leaf-77"><text class="t l" transform="rotate(-50)" x="-246" dy="2.8">Klebsiella virus KP15 GU295964</text><use href="#sq" class="cy" transform="rotate(130)"/></g>
<g id="leaf-78"><text class="t l" transform="rotate(-46.3)" x="-246" dy="2.8">Escherichia virus RB49 AY343333</text><use href="#sq" class="cy" transform="rotate(133.7)"/></g>
<g id="leaf-79"><text class="t l" transform="rotate(-42.6)" x="-246" dy="2.8">Citrobacter virus Moon KM236240</text><use href="#sq" class="cy" transform="rotate(137.4)"/></g>
<g id="leaf-80"><text class="t l" transform="rotate(-39)" x="-246" dy="2.8">Escherichia virus JS98 EF469154</text><use href="#sq" class="cy" transform="rotate(141)"/></g>
<g id="leaf-81"><text class="t l" transform="rotate(-35.3)" x="-246" dy="2.8">Escherichia virus RB69 AY303349</text><use href="#sq" class="cy" transform="rotate(144.7)"/></g>
<g id="leaf-82"><text class="t l" transform="rotate(-31.6)" x="-246" dy="2.8">Escherichia virus T4 AF158101</text><use href="#sq" class="cy" transform="rotate(148.4)"/></g>
<g id="leaf-83"><text class="t l" transform="rotate(-27.9)" x="-246" dy="2.8">Klebsiella virus Sugarland MG459987</text><use href="#sq" class="bk" transform="rotate(152.1)"/></g>
<g id="leaf-84"><text class="t l" transform="rotate(-24.2)" x="-246" dy="2.8">Escherichia virus EPS7 CP000917</text><use href="#sq" class="bk" transform="rotate(155.8)"/></g>
<g id="leaf-85"><text class="t l" transform="rotate(-20.5)" x="-246" dy="2.8">Escherichia virus T5 AY543070</text><use href="#sq" class="bk" transform="rotate(159.5)"/></g>
<g id="leaf-86"><text class="t l" transform="rotate(-16.8)" x="-246" dy="2.8">Salmonella virus FelixO1 AF071201</text><use href="#sq" class="cy" transform="rotate(163.2)"/></g>
<g id="leaf-87"><text class="t l" transform="rotate(-13.2)" x="-246" dy="2.8">Citrobacter virus Moogle KM236239</text><use href="#sq" class="cy" transform="rotate(166.8)"/></g>
<g id="leaf-88"><text class="t l" transform="rotate(-9.5)" x="-246" dy="2.8">Escherichia virus SUSP1 KT454805</text><use href="#sq" class="cy" transform="rotate(170.5)"/></g>
<g id="leaf-89"><text class="t l" transform="rotate(-5.8)" x="-246" dy="2.8">Escherichia virus PBECO4 KC295538</text><use href="#sq" class="cy" transform="rotate(174.2)"/></g>
<g id="leaf-90"><text class="t l" transform="rotate(-2.1)" x="-246" dy="2.8">Cronobacter virus GAP32 JN882285</text><use href="#sq" class="cy" transform="rotate(177.9)"/></g>
<g id="leaf-91"><text class="t l" transform="rotate(1.6)" x="-246" dy="2.8">Escherichia virus K1F MN850571</text><use href="#sq" class="li" transform="rotate(181.6)"/></g>
<g id="leaf-92"><text class="t l" transform="rotate(5.3)" x="-246" dy="2.8">Escherichia virus phAPEC8 JX561091</text><use href="#sq" class="cy" transform="rotate(185.3)"/></g>
<g id="leaf-93"><text class="t l" transform="rotate(8.9)" x="-246" dy="2.8">Cronobacter virus CR3 JQ691612</text><use href="#sq" class="cy" transform="rotate(188.9)"/></g>
<g id="leaf-94"><text class="t l" transform="rotate(12.6)" x="-246" dy="2.8">Escherichia virus V5 DQ832317</text><use href="#sq" class="cy" transform="rotate(192.6)"/></g>
<g id="leaf-95"><text class="t l" transform="rotate(16.3)" x="-246" dy="2.8">Salmonella virus PVPSE1 GU070616</text><use href="#sq" class="cy" transform="rotate(196.3)"/></g>
</g>
</g>
<g id="legend-family">
<line x1="898" y1="103" x2="898" y2="297" stroke="#e4e4e4" stroke-width="1"/>
<text class="lh" x="905" y="95">Family</text>
<rect class="ls" x="903" y="108" width="16" height="16" fill="#0000ff"/>
<text class="lg" x="929" y="118.5">Ackermannviridae</text>
<rect class="ls" x="903" y="132" width="16" height="16" fill="#44ff00"/>
<text class="lg" x="929" y="142.7">Autographiviridae</text>
<rect class="ls" x="903" y="156" width="16" height="16" fill="#9a9a9a"/>
<text class="lg" x="929" y="166.9">Chaseviridae</text>
<rect class="ls" x="903" y="180" width="16" height="16" fill="#000000"/>
<text class="lg" x="929" y="191.1">Demerecviridae</text>
<rect class="ls" x="903" y="204" width="16" height="16" fill="#ff0000"/>
<text class="lg" x="929" y="215.3">Drexlerviridae</text>
<rect class="ls" x="903" y="228" width="16" height="16" fill="#00ffff"/>
<text class="lg" x="929" y="239.5">Myoviridae</text>
<rect class="ls" x="903" y="252" width="16" height="16" fill="#007a00"/>
<text class="lg" x="929" y="263.7">Podoviridae</text>
<rect class="ls" x="903" y="276" width="16" height="16" fill="#ffe000"/>
<text class="lg" x="929" y="287.9">Siphoviridae</text>
</g>
<g id="legend-genera">
<line x1="900" y1="358" x2="900" y2="403" stroke="#e4e4e4" stroke-width="1"/>
<text class="lh" x="905" y="347"><tspan font-style="italic">Rosemountvirinae</tspan> genera</text>
<rect class="ls" x="904" y="360" width="16" height="16" fill="#ff00e6"/>
<text class="lg" x="929" y="372">Loughboroughvirus</text>
<rect class="ls" x="904" y="383" width="16" height="16" fill="#4d0080"/>
<text class="lg" x="929" y="396">Rosemountvirus</text>
</g>
<g id="tree-scale">
<text x="908" y="464" font-family="Liberation Sans, Arial, sans-serif" font-size="10" font-weight="bold" fill="#555">Tree scale: 0.1</text>
<path d="M998 460.5H1023M998.5 457.5V463.5M1022.5 457.5V463.5" stroke="#555" stroke-width="1" fill="none"/>
</g>
</svg>
